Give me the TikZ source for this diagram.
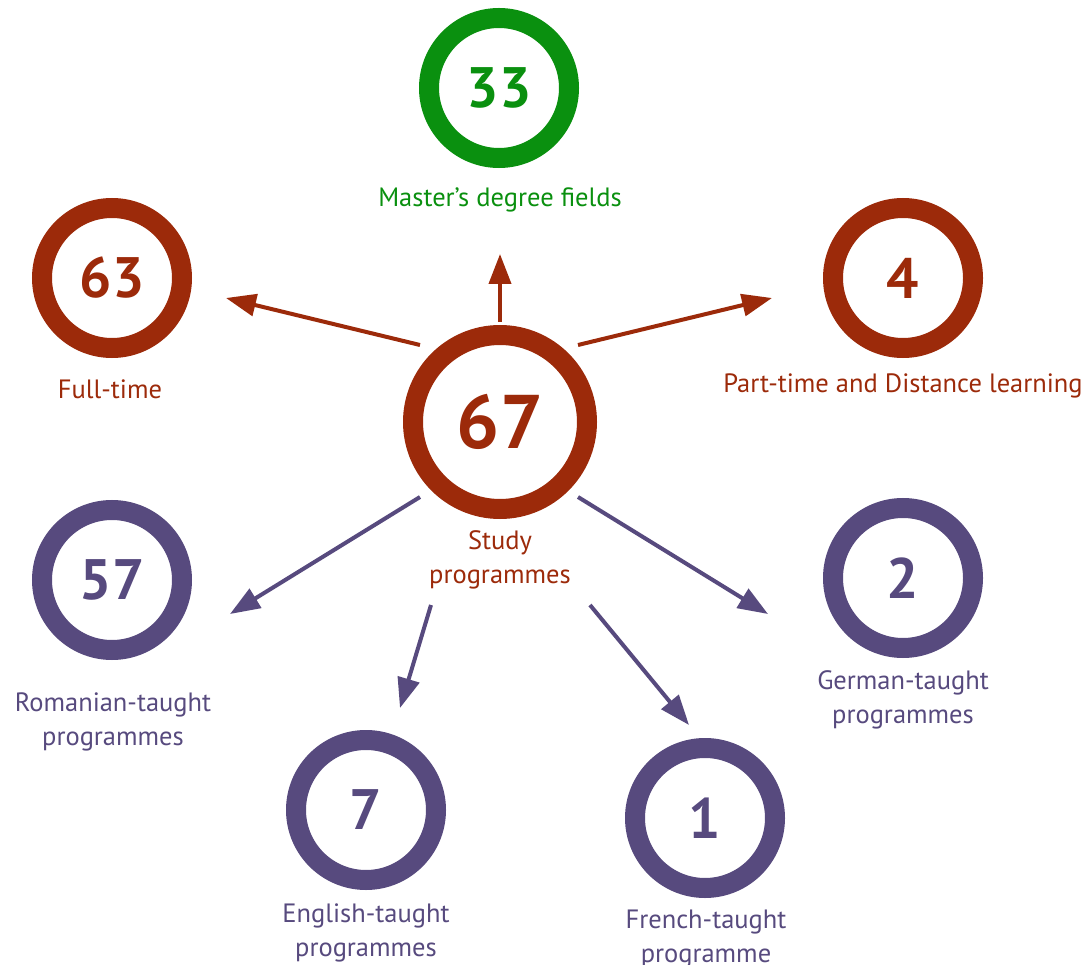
\documentclass[tikz,border=0pt]{standalone}
\usepackage{fontspec}
\setmainfont{PT Sans}
\usetikzlibrary{arrows.meta}
\definecolor{rust}{HTML}{9C2A0A}
\definecolor{grn}{HTML}{0A900F}
\definecolor{purp}{HTML}{574A7E}
\begin{document}
\begin{tikzpicture}[x=1pt,y=-1pt,
  ring/.style={circle, draw=#1, line width=20pt, minimum size=140pt, inner sep=0pt, text=#1,
    font=\fontsize{57}{57}\selectfont\bfseries},
  bigring/.style={ring=#1, minimum size=174pt, font=\fontsize{76}{76}\selectfont\bfseries},
  lbl/.style={text=#1, font=\fontsize{26.5}{34.5}\selectfont, align=center, inner sep=0pt},
  arr/.style={draw=#1, line width=4pt, -{Triangle[length=30pt,width=22pt]}}]
\useasboundingbox (0,0) rectangle (1087,965);
\node[bigring=rust] (c67) at (500,422) {67};
\node[ring=grn] (c33) at (499,88) {33};
\node[ring=rust] (c63) at (112,278) {63};
\node[ring=rust] (c4) at (903,278) {4};
\node[ring=purp] (c57) at (112,580) {57};
\node[ring=purp] (c2) at (903,578) {2};
\node[ring=purp] (c7) at (366,810) {7};
\node[ring=purp] (c1) at (705,818) {1};
\node[lbl=grn] (l33) at (500,200) {Master’s degree fields};
\node[lbl=rust] (l63) at (110,389) {Full-time};
\node[lbl=rust] (l4) at (903,386) {Part-time and Distance learning};
\node[lbl=rust] (l67) at (500,560) {Study\\programmes};
\node[lbl=purp] (l57) at (113,722) {Romanian-taught\\programmes};
\node[lbl=purp] (l2) at (903,700) {German-taught\\programmes};
\node[lbl=purp] (l7) at (366,933) {English-taught\\programmes};
\node[lbl=purp] (l1) at (706,939) {French-taught\\programme};
\coordinate (s63) at (420,345); \coordinate (e63) at (226,298);
\coordinate (s33) at (500,322); \coordinate (e33) at (500,254);
\coordinate (s4) at (578,345);  \coordinate (e4) at (772,298);
\coordinate (s57) at (420,497); \coordinate (e57) at (230,614);
\coordinate (s7) at (431,605);  \coordinate (e7) at (400,708);
\coordinate (s1) at (590,605);  \coordinate (e1) at (689,725);
\coordinate (s2) at (578,497);  \coordinate (e2) at (768,614);
\draw[arr=rust] (s63) -- (e63);
\draw[arr=rust] (s33) -- (e33);
\draw[arr=rust] (s4) -- (e4);
\draw[arr=purp] (s57) -- (e57);
\draw[arr=purp] (s7) -- (e7);
\draw[arr=purp] (s1) -- (e1);
\draw[arr=purp] (s2) -- (e2);
\end{tikzpicture}
\end{document}
